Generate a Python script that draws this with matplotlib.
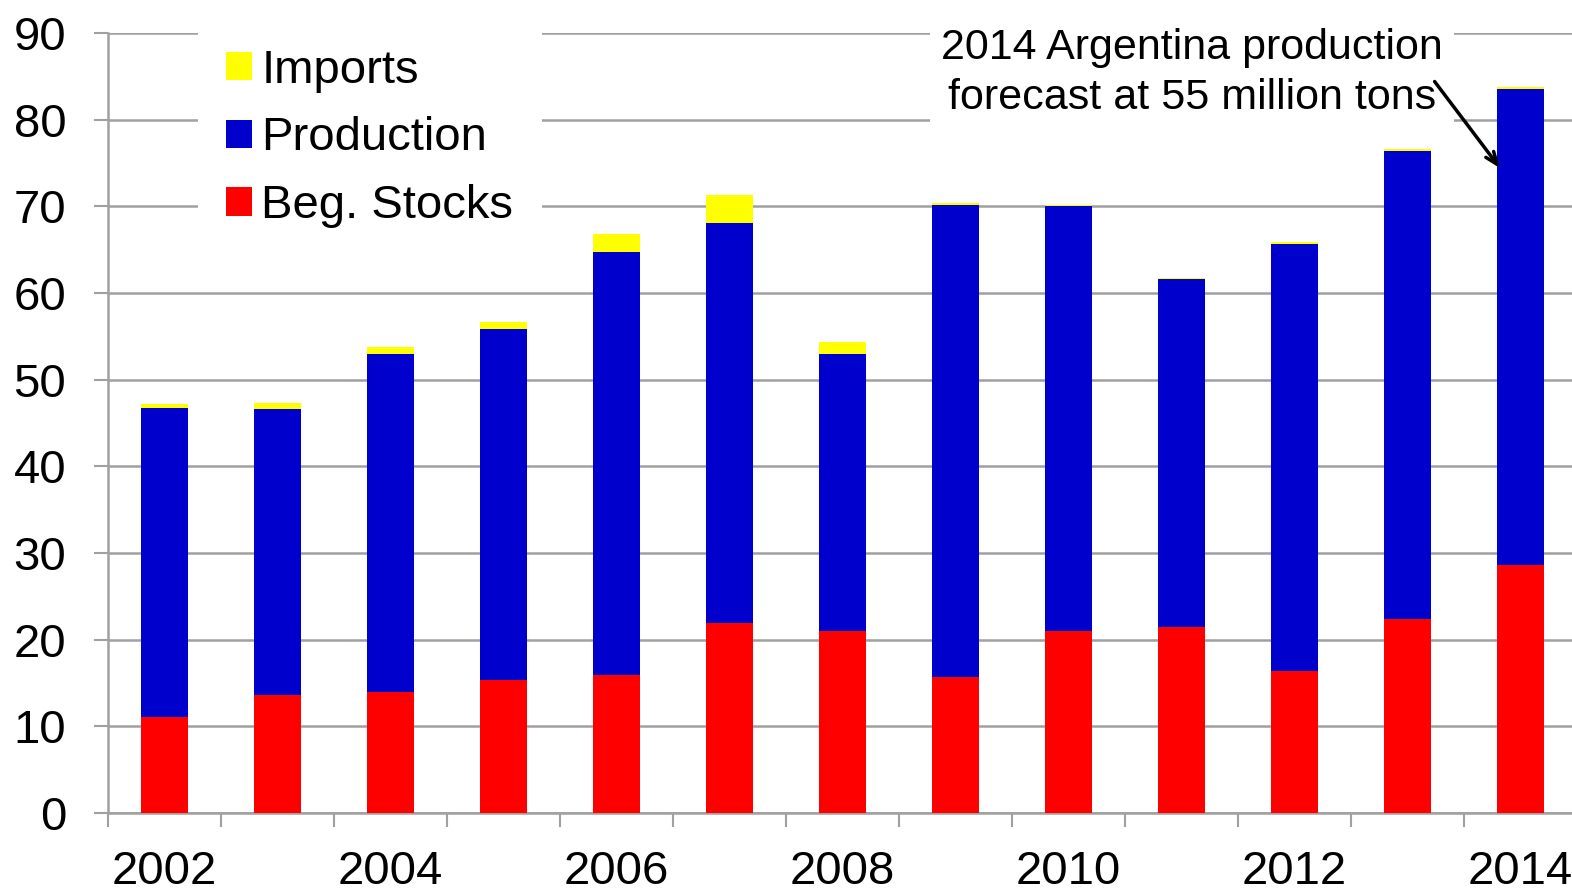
import matplotlib
matplotlib.use("Agg")
import matplotlib.pyplot as plt
import numpy as np

years = [2002, 2003, 2004, 2005, 2006, 2007, 2008, 2009, 2010, 2011, 2012, 2013, 2014]
beg_stocks = [11.1, 13.6, 14.0, 15.3, 15.9, 21.9, 21.0, 15.7, 21.0, 21.5, 16.4, 22.4, 28.6]
production = [35.6, 33.0, 39.0, 40.6, 48.8, 46.2, 32.0, 54.45, 49.0, 40.15, 49.25, 54.0, 54.9]
imports = [0.5, 0.7, 0.8, 0.8, 2.1, 3.2, 1.3, 0.2, 0.2, 0.05, 0.25, 0.2, 0.3]
yticks = [0, 10, 20, 30, 40, 50, 60, 70, 80, 90]
note = "2014 Argentina production\nforecast at 55 million tons"

GRID = "#a0a0a0"

def main():
  plt.rcParams['font.family'] = ['Liberation Sans', 'DejaVu Sans']
  fig = plt.figure(figsize=(15.72, 8.90), dpi=100)
  ax = fig.add_axes([108 / 1572, 77 / 890, 1469 / 1572, 780 / 890])

  x = np.arange(len(years))
  stocks = np.array(beg_stocks)
  prod = np.array(production)
  w = 0.415

  ax.bar(x, stocks, w, color="#ff0000", label="Beg. Stocks", zorder=3)
  ax.bar(x, prod, w, bottom=stocks, color="#0000cc", label="Production", zorder=3)
  ax.bar(x, imports, w, bottom=stocks + prod, color="#ffff00", label="Imports", zorder=3)

  ax.set_xlim(-0.5, len(years) - 0.5)
  ax.set_ylim(0, 90)
  ax.set_yticks(yticks)
  ax.yaxis.grid(True, color=GRID, linewidth=1.8, zorder=0)
  ax.set_axisbelow(True)

  # category boundary ticks, labels every other year on minor ticks
  ax.set_xticks(np.arange(-0.5, len(years), 1.0))
  ax.set_xticklabels([])
  ax.set_xticks(x[::2], minor=True)
  ax.set_xticklabels([str(y) for y in years[::2]], minor=True)
  ax.tick_params(axis="x", which="major", length=10, width=1.5, color=GRID)
  ax.tick_params(axis="x", which="minor", length=0, pad=27, labelsize=34)
  ax.tick_params(axis="y", length=10, width=1.5, color=GRID, pad=20, labelsize=34)

  for s in ["top", "right"]:
    ax.spines[s].set_visible(False)
  for s in ["left", "bottom"]:
    ax.spines[s].set_color(GRID)
    ax.spines[s].set_linewidth(1.8)

  # legend box sits over the top gridline, like the original
  handles, labels = ax.get_legend_handles_labels()
  leg = ax.legend(handles[::-1], labels[::-1], loc="upper left",
                  bbox_to_anchor=(0.061, 1.016), fontsize=34, frameon=True,
                  fancybox=False, edgecolor="none", framealpha=1,
                  handlelength=0.55, handleheight=0.55, handletextpad=0.2,
                  labelspacing=0.5, borderpad=0.6, borderaxespad=0.0)
  leg.set_zorder(5)

  ax.text(9.09, 85.4, note, ha="center", va="center", fontsize=31,
          linespacing=1.3, zorder=6,
          bbox=dict(facecolor="white", edgecolor="none", pad=8))
  ax.annotate("", xy=(11.82, 74.4), xytext=(11.24, 84.4),
              arrowprops=dict(arrowstyle="->,head_length=0.9,head_width=0.35",
                              color="black", lw=2.5, shrinkA=0, shrinkB=0),
              zorder=7)

  fig.savefig("out.png", dpi=100)

if __name__ == '__main__':
  main()
